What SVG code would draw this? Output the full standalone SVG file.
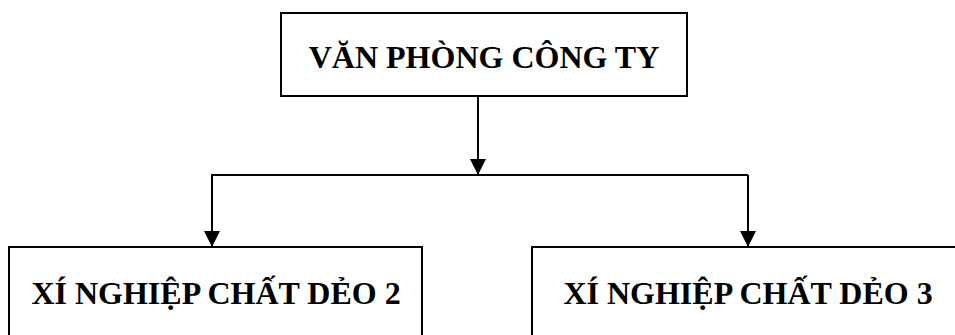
<svg xmlns="http://www.w3.org/2000/svg" width="955" height="335" viewBox="0 0 955 335">
  <style>
    .box { fill: #ffffff; stroke: #000000; stroke-width: 2; }
    .label { font-family: "Liberation Serif", "Times New Roman", serif; font-weight: bold; font-size: 32px; fill: #000000; text-anchor: middle; }
    .conn { fill: none; stroke: #000000; stroke-width: 2; }
  </style>
  <defs>
    <marker id="arrow" markerUnits="userSpaceOnUse" markerWidth="16" markerHeight="16" refX="16" refY="8" orient="auto" viewBox="0 0 16 16">
      <path d="M0,0 L16,8 L0,16 z" fill="#000000"/>
    </marker>
  </defs>
  <rect width="955" height="335" fill="#ffffff"/>
  <g id="connectors">
    <path class="conn" d="M478,96 V175" marker-end="url(#arrow)"/>
    <path class="conn" d="M211,175 H748"/>
    <path class="conn" d="M212,175 V247" marker-end="url(#arrow)"/>
    <path class="conn" d="M748,175 V247" marker-end="url(#arrow)"/>
  </g>
  <g id="van-phong-cong-ty">
    <rect class="box" x="281" y="13" width="406" height="83"/>
    <text class="label" x="484" y="68">VĂN PHÒNG CÔNG TY</text>
  </g>
  <g id="xi-nghiep-2">
    <rect class="box" x="9" y="247" width="413" height="100"/>
    <text class="label" x="216" y="304">XÍ NGHIỆP CHẤT DẺO 2</text>
  </g>
  <g id="xi-nghiep-3">
    <rect class="box" x="532" y="247" width="432" height="100"/>
    <text class="label" x="748" y="304">XÍ NGHIỆP CHẤT DẺO 3</text>
  </g>
</svg>
